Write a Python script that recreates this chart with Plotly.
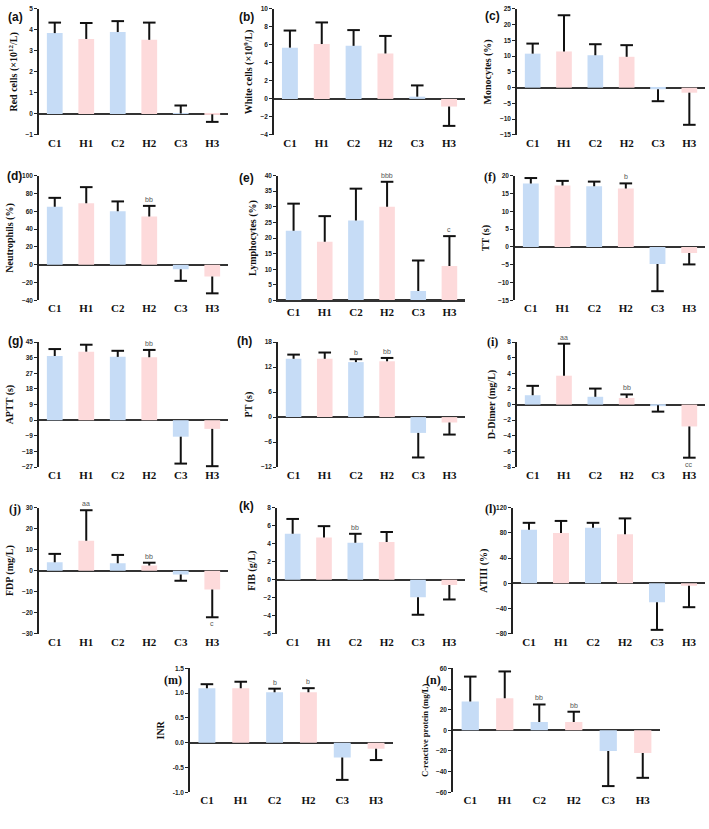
import plotly.graph_objects as go

W, H = 709, 829

categories = ["C1", "H1", "C2", "H2", "C3", "H3"]
bar_colors = ["#c6dcf6", "#fddadb", "#c6dcf6", "#fddadb", "#c6dcf6", "#fddadb"]

red_mean = [3.85, 3.57, 3.9, 3.53, 0.02, -0.02]
red_sd = [0.5, 0.76, 0.52, 0.82, 0.38, 0.36]
red_sig = ["", "", "", "", "", ""]
red_ticks = [-1, 0, 1, 2, 3, 4, 5]

white_mean = [5.7, 6.1, 5.9, 5.05, 0.25, -0.85]
white_sd = [1.9, 2.4, 1.75, 1.95, 1.25, 2.15]
white_sig = ["", "", "", "", "", ""]
white_ticks = [-4, -2, 0, 2, 4, 6, 8, 10]

mono_mean = [10.8, 11.5, 10.3, 9.8, -0.5, -1.6]
mono_sd = [3.2, 11.5, 3.5, 3.7, 3.8, 10.2]
mono_sig = ["", "", "", "", "", ""]
mono_ticks = [-15, -10, -5, 0, 5, 10, 15, 20, 25]

neut_mean = [65, 69, 60, 54, -5, -13]
neut_sd = [10, 18, 11, 12, 13, 19]
neut_sig = ["", "", "", "bb", "", ""]
neut_ticks = [-40, -20, 0, 20, 40, 60, 80, 100]

lymph_mean = [22.3, 18.8, 25.6, 30, 3, 11]
lymph_sd = [8.7, 8.2, 10.2, 8, 9.8, 9.6]
lymph_sig = ["", "", "", "bbb", "", "c"]
lymph_ticks = [0, 5, 10, 15, 20, 25, 30, 35, 40]

tt_mean = [17.8, 17.2, 17.0, 16.4, -4.8, -1.7]
tt_sd = [1.5, 1.3, 1.3, 1.4, 7.6, 3.2]
tt_sig = ["", "", "", "b", "", ""]
tt_ticks = [-15, -10, -5, 0, 5, 10, 15, 20]

aptt_mean = [37, 39.5, 36.5, 36.3, -9.5, -5]
aptt_sd = [4, 4, 3.5, 4.2, 15.5, 21.5]
aptt_sig = ["", "", "", "bb", "", ""]
aptt_ticks = [-27, -18, -9, 0, 9, 18, 27, 36, 45]

pt_mean = [14, 14, 13.2, 13.4, -3.8, -1.3]
pt_sd = [1, 1.5, 0.7, 0.8, 5.9, 2.9]
pt_sig = ["", "", "b", "bb", "", ""]
pt_ticks = [-12, -6, 0, 6, 12, 18]

dd_mean = [1.2, 3.7, 1.0, 0.85, -0.1, -2.8]
dd_sd = [1.2, 4.1, 1.05, 0.45, 0.8, 4.0]
dd_sig = ["", "aa", "", "bb", "", "cc"]
dd_ticks = [-8, -6, -4, -2, 0, 2, 4, 6, 8]

fdp_mean = [4, 14.2, 3.5, 2.5, -1.8, -9]
fdp_sd = [4, 14.6, 4, 1.3, 3, 13.2]
fdp_sig = ["", "aa", "", "bb", "", "c"]
fdp_ticks = [-30, -20, -10, 0, 10, 20, 30]

fib_mean = [5.1, 4.7, 4.1, 4.2, -1.95, -0.6]
fib_sd = [1.65, 1.25, 1.0, 1.1, 1.95, 1.6]
fib_sig = ["", "", "bb", "", "", ""]
fib_ticks = [-6, -4, -2, 0, 2, 4, 6, 8]

at_mean = [85, 80, 88, 78, -30, -4]
at_sd = [11, 19, 8, 25, 44, 34]
at_sig = ["", "", "", "", "", ""]
at_ticks = [-80, -40, 0, 40, 80, 120]

inr_mean = [1.1, 1.1, 1.02, 1.02, -0.3, -0.12]
inr_sd = [0.08, 0.13, 0.07, 0.08, 0.45, 0.23]
inr_sig = ["", "", "b", "b", "", ""]
inr_ticks = [-1.0, -0.5, 0.0, 0.5, 1.0, 1.5]
inr_ticktext = ["-1.0", "-0.5", "0.0", "0.5", "1.0", "1.5"]

crp_mean = [28, 31, 8, 8, -20, -22]
crp_sd = [24, 26, 17, 10, 34, 24]
crp_sig = ["", "", "bb", "bb", "", ""]
crp_ticks = [-60, -40, -20, 0, 20, 40, 60]

SERIF = "Liberation Serif"
SANS = "Liberation Sans"

panels = [
    dict(letter="(a)", title="Red cells (×10<sup>12</sup>/L)", mean=red_mean, sd=red_sd, sig=red_sig, ticks=red_ticks,
         box=(39, 228, 5, 132), lab=(6, 13), lfont=SANS),
    dict(letter="(b)", title="White cells (×10<sup>9</sup>/L)", mean=white_mean, sd=white_sd, sig=white_sig, ticks=white_ticks,
         box=(274, 465, 5, 132), lab=(237, 13), lfont=SANS),
    dict(letter="(c)", title="Monocytes (%)", mean=mono_mean, sd=mono_sd, sig=mono_sig, ticks=mono_ticks,
         box=(517, 705, 5, 132), lab=(483, 12), lfont=SANS),
    dict(letter="(d)", title="Neutrophils (%)", mean=neut_mean, sd=neut_sd, sig=neut_sig, ticks=neut_ticks,
         box=(39, 228, 173, 299), lab=(5, 173), lfont=SANS),
    dict(letter="(e)", title="Lymphocytes (%)", mean=lymph_mean, sd=lymph_sd, sig=lymph_sig, ticks=lymph_ticks,
         box=(278, 465, 173, 299), lab=(237, 175), lfont=SANS),
    dict(letter="(f)", title="TT (s)", mean=tt_mean, sd=tt_sd, sig=tt_sig, ticks=tt_ticks,
         box=(515, 705, 173, 299), lab=(482, 174), lfont=SERIF),
    dict(letter="(g)", title="APTT (s)", mean=aptt_mean, sd=aptt_sd, sig=aptt_sig, ticks=aptt_ticks,
         box=(39, 228, 341, 467), lab=(6, 340), lfont=SANS),
    dict(letter="(h)", title="PT (s)", mean=pt_mean, sd=pt_sd, sig=pt_sig, ticks=pt_ticks,
         box=(278, 465, 341, 467), lab=(235, 340), lfont=SANS),
    dict(letter="(i)", title="D-Dimer (mg/L)", mean=dd_mean, sd=dd_sd, sig=dd_sig, ticks=dd_ticks,
         box=(517, 705, 341, 467), lab=(485, 341), lfont=SERIF),
    dict(letter="(j)", title="FDP (mg/L)", mean=fdp_mean, sd=fdp_sd, sig=fdp_sig, ticks=fdp_ticks,
         box=(39, 228, 508, 635), lab=(7, 509), lfont=SERIF),
    dict(letter="(k)", title="FIB (g/L)", mean=fib_mean, sd=fib_sd, sig=fib_sig, ticks=fib_ticks,
         box=(277, 465, 508, 635), lab=(237, 506), lfont=SANS),
    dict(letter="(l)", title="ATIII (%)", mean=at_mean, sd=at_sd, sig=at_sig, ticks=at_ticks,
         box=(513, 705, 508, 635), lab=(483, 509), lfont=SERIF),
    dict(letter="(m)", title="INR", mean=inr_mean, sd=inr_sd, sig=inr_sig, ticks=inr_ticks, ticktext=inr_ticktext,
         box=(190, 393, 670, 795), lab=(162, 682), lfont=SERIF),
    dict(letter="(n)", title="C-reactive protein (mg/L)", mean=crp_mean, sd=crp_sd, sig=crp_sig, ticks=crp_ticks,
         box=(453, 660, 670, 795), lab=(424, 682), lfont=SERIF, tsize=8.5),
]

fig = go.Figure()
annotations = []

for i, p in enumerate(panels):
    n = "" if i == 0 else str(i + 1)
    xa, ya = "x" + n, "y" + n
    x0, x1, yt, yb = p["box"]
    tips = [m + s if m >= 0 else m - s for m, s in zip(p["mean"], p["sd"])]

    fig.add_trace(go.Bar(x=categories, y=p["mean"], marker=dict(color=bar_colors, line=dict(width=0)),
                         xaxis=xa, yaxis=ya, showlegend=False))
    lx, ly = [], []
    for c, m, t in zip(categories, p["mean"], tips):
        lx += [c, c, None]
        ly += [m, t, None]
    fig.add_trace(go.Scatter(x=lx, y=ly, mode="lines", line=dict(color="#111", width=2),
                             xaxis=xa, yaxis=ya, showlegend=False, cliponaxis=False))
    fig.add_trace(go.Scatter(x=categories, y=tips, mode="markers",
                             marker=dict(symbol="line-ew", size=9, line=dict(color="#111", width=2)),
                             xaxis=xa, yaxis=ya, showlegend=False, cliponaxis=False))

    for c, t, s in zip(categories, tips, p["sig"]):
        if s:
            annotations.append(dict(x=c, y=t, xref=xa, yref=ya, text=s, showarrow=False,
                                    yanchor="bottom" if t >= 0 else "top", yshift=1 if t >= 0 else -1,
                                    font=dict(family=SANS, size=7, color="#555")))

    annotations.append(dict(x=p["lab"][0] / W, y=1 - p["lab"][1] / H, xref="paper", yref="paper",
                            text="<b>" + p["letter"] + "</b>", showarrow=False, xanchor="left", yanchor="middle",
                            font=dict(family=p["lfont"], size=12, color="#111")))

    ticks = p["ticks"]
    yaxis = dict(domain=[1 - yb / H, 1 - yt / H], range=[ticks[0], ticks[-1]], tickvals=ticks,
                 showgrid=False, showline=True, linecolor="#222", linewidth=1.5,
                 ticks="outside", ticklen=3, tickwidth=1, tickcolor="#222",
                 tickfont=dict(family=SANS, size=6.5, color="#222", weight="bold"),
                 zeroline=True, zerolinecolor="#333", zerolinewidth=1.8,
                 title=dict(text=p["title"],
                            font=dict(family=SERIF, size=p.get("tsize", 10), color="#111", weight="bold"),
                            standoff=6),
                 anchor=xa)
    if "ticktext" in p:
        yaxis["ticktext"] = p["ticktext"]
    xaxis = dict(domain=[x0 / W, x1 / W], range=[-0.5, 5.5], type="category",
                 showgrid=False, zeroline=False, showline=(ticks[0] == 0), linecolor="#333", linewidth=1.8,
                 ticks="", tickfont=dict(family=SERIF, size=11, color="#111", weight="bold"),
                 anchor=ya)
    fig.layout["xaxis" + n] = xaxis
    fig.layout["yaxis" + n] = yaxis

fig.update_layout(width=W, height=H, margin=dict(l=0, r=0, t=0, b=0),
                  paper_bgcolor="white", plot_bgcolor="white", bargap=0.5,
                  annotations=annotations)

fig.write_html("out.html", config={"displayModeBar": False},
               post_script="document.body.style.margin='0';document.body.style.overflow='hidden';")
